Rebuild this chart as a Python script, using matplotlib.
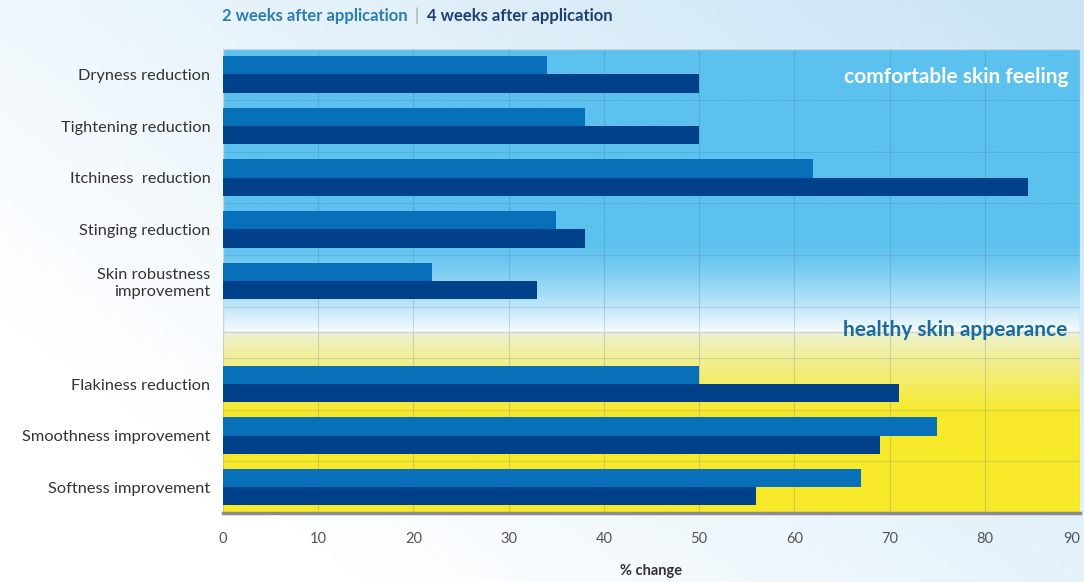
import numpy as np
import matplotlib
matplotlib.use("Agg")
import matplotlib.pyplot as plt
from matplotlib.colors import to_rgb
from matplotlib.patches import Rectangle

plt.rcParams["font.family"] = ["Lato", "DejaVu Sans"]

# data
cats_top = ["Dryness reduction", "Tightening reduction", "Itchiness  reduction",
            "Stinging reduction", "Skin robustness\nimprovement"]
cats_bottom = ["Flakiness reduction", "Smoothness improvement", "Softness improvement"]
week2_top = [34, 38, 62, 35, 22]
week4_top = [50, 50, 84.5, 38, 33]
week2_bottom = [50, 75, 67]
week4_bottom = [71, 69, 56]
xticks = [0, 10, 20, 30, 40, 50, 60, 70, 80, 90]

c2 = "#0870b8"
c4 = "#00418a"

pos_top = np.arange(len(cats_top))
pos_bottom = np.arange(len(cats_bottom)) + len(cats_top) + 1
pos = np.concatenate([pos_top, pos_bottom])
labels = cats_top + cats_bottom
w2 = week2_top + week2_bottom
w4 = week4_top + week4_bottom
split = len(cats_top)
ytop, ybot = -0.5, pos_bottom[-1] + 0.5
xmax = xticks[-1]

fig = plt.figure(figsize=(10.84, 5.82), dpi=100)

# page background: white to pale blue
bg = fig.add_axes([0, 0, 1, 1], zorder=-10)
gx, gy = np.meshgrid(np.linspace(0, 1, 300), np.linspace(0, 1, 160))
t = np.clip(0.75 * gx + 0.55 * gy - 0.25, 0, 1)[..., None]
white = np.array(to_rgb("#ffffff"))
pale = np.array(to_rgb("#cbe5f6"))
bg.imshow(white * (1 - t) + pale * t, aspect="auto", extent=[0, 1, 0, 1], origin="lower")
bg.axis("off")

ax = fig.add_axes([223 / 1084, 1 - 513 / 582, 857 / 1084, 464.3 / 582])
ax.set_facecolor("none")

# panel backgrounds
v = np.linspace(0, 1, 200)[:, None]
blue = np.array(to_rgb("#5cc1ef"))
top_white = np.array(to_rgb("#f7fcfe"))
k = np.clip((v - 0.68) / 0.32, 0, 1) ** 1.4
grad_top = (blue * (1 - k) + top_white * k)[:, None, :] * np.ones((1, 2, 1))
ax.imshow(grad_top, aspect="auto", extent=[0, xmax, split, ytop], zorder=0)

pale_y = np.array(to_rgb("#eef2d2"))
yellow = np.array(to_rgb("#f7e92a"))
k2 = np.clip(v / 0.45, 0, 1) ** 0.9
grad_bot = (pale_y * (1 - k2) + yellow * k2)[:, None, :] * np.ones((1, 2, 1))
ax.imshow(grad_bot, aspect="auto", extent=[0, xmax, ybot, split], zorder=0)

ax.add_patch(Rectangle((0, ytop), xmax, split - ytop, fill=False,
                       edgecolor="#c9d5dd", lw=1, zorder=0.6))

h = 0.354
ax.barh(pos - h / 2, w2, height=h, color=c2, zorder=2)
ax.barh(pos + h / 2, w4, height=h, color=c4, zorder=2)

ax.set_xlim(0, xmax)
ax.set_ylim(ybot, ytop)
ax.set_xticks(xticks)
ax.set_yticks(pos)
ax.set_yticklabels(labels)
ax.set_yticks(np.arange(ytop, ybot + 0.01, 0.5), minor=True)
ax.grid(True, which="major", axis="x", color="#3a6a8c", alpha=0.22, lw=0.8)
ax.grid(True, which="minor", axis="y", color="#3a6a8c", alpha=0.18, lw=0.8)
ax.set_axisbelow(True)
ax.tick_params(axis="both", which="both", length=0)
ax.tick_params(axis="y", pad=9, labelsize=11.8, labelcolor="#333333")
ax.tick_params(axis="x", pad=14, labelsize=10.5, labelcolor="#555555")
ax.get_xticklabels()[-1].set_ha("right")

for s in ["top", "right", "left"]:
    ax.spines[s].set_visible(False)
ax.spines["bottom"].set_color("#8c8c8c")
ax.spines["bottom"].set_linewidth(2.5)
ax.spines["bottom"].set_zorder(3)

ax.set_xlabel("% change", fontsize=10.5, fontweight="bold", color="#333333", labelpad=13)

ax.text(0.986, 0.939, "comfortable skin feeling", transform=ax.transAxes,
        ha="right", va="center", color="white", fontsize=15, fontweight="bold", zorder=4)
ax.text(0.985, 0.394, "healthy skin appearance", transform=ax.transAxes,
        ha="right", va="center", color="#1a6b9c", fontsize=15, fontweight="bold", zorder=4)

# legend line at top
fig.text(222 / 1084, 1 - 16 / 582, "2 weeks after application", color="#2b7db8",
         fontsize=12, fontweight="bold", va="center", ha="left")
fig.text(417 / 1084, 1 - 16 / 582, "|", color="#9aa5ad", fontsize=12, va="center", ha="center")
fig.text(427 / 1084, 1 - 16 / 582, "4 weeks after application", color="#1d3f78",
         fontsize=12, fontweight="bold", va="center", ha="left")

fig.savefig("out.png", dpi=100)
